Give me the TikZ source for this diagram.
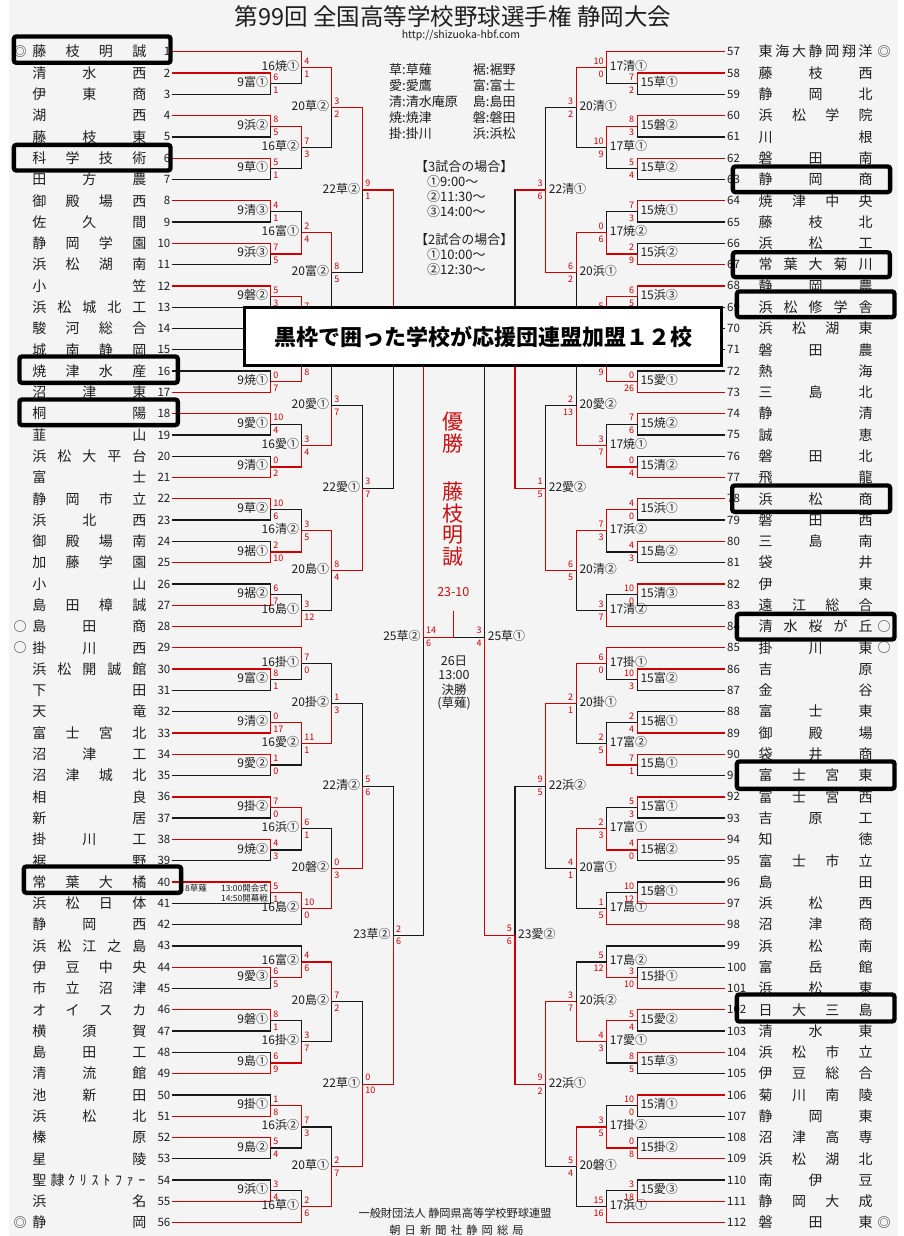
\documentclass[tikz,border=0pt]{standalone}
\usepackage{fontspec}
\setmainfont{Noto Sans CJK JP}
\usetikzlibrary{calc}
\definecolor{bgc}{RGB}{244,244,244}
\definecolor{lred}{RGB}{204,0,0}
\definecolor{lblk}{RGB}{25,25,25}
\definecolor{tred}{RGB}{200,16,16}
\definecolor{txt}{RGB}{30,30,30}
\newcommand\fsz[1]{\fontsize{#1}{#1}\selectfont}
\tikzset{
  win/.style={draw=lred,line width=1.3pt},
  lose/.style={draw=lblk,line width=1.3pt},
  lab/.style={font=\fsz{12},text=txt,inner sep=0pt,text height=10.5pt,text depth=1.5pt},
  sc/.style={font=\fsz{9},text=lred,inner sep=0pt},
  tn/.style={font=\fsz{14},text=txt,inner sep=0pt,text height=12.3pt,text depth=1.7pt},
  num/.style={font=\fsz{11.5},text=txt,inner sep=0pt},
  seedmark/.style={font=\fsz{13},text=txt,inner sep=0pt},
  info/.style={font=\fsz{13},text=txt,inner sep=0pt,anchor=west},
  tbox/.style={draw=black,line width=4.4pt,rounded corners=2.5pt},
  small/.style={font=\fsz{8.5},text=txt,inner sep=0pt}
}
% match: name, top in, bottom in, x, label, top score, bottom score, winner(1/2/3), side
\newcommand\mt[9]{%
  \coordinate (#1x) at (#4,0);
  \coordinate (#1m) at ($(#2)!0.5!(#3)$);
  \coordinate (#1) at (#1x |- #1m);
  \ifnum#8=1
    \draw[lose] (#3) -- (#3 -| #1x) -- (#1);
    \draw[win] (#2) -- (#2 -| #1x) -- (#1);
  \else\ifnum#8=2
    \draw[lose] (#2) -- (#2 -| #1x) -- (#1);
    \draw[win] (#3) -- (#3 -| #1x) -- (#1);
  \else
    \draw[win] (#2) -- (#2 -| #1x) -- (#1);
    \draw[win] (#3) -- (#3 -| #1x) -- (#1);
  \fi\fi
  \if L#9
    \node[lab,anchor=east] (#1l) at ($(#1)+(-2.5,-1.5)$) {#5};
    \node[sc,anchor=west] (#1a) at ($(#1)+(2.5,-6.5)$) {#6};
    \node[sc,anchor=west] (#1b) at ($(#1)+(2.5,6.5)$) {#7};
  \else
    \node[lab,anchor=west] (#1l) at ($(#1)+(3,-1.5)$) {#5};
    \node[sc,anchor=east] (#1a) at ($(#1)+(-3,-6.5)$) {#6};
    \node[sc,anchor=east] (#1b) at ($(#1)+(-3,6.5)$) {#7};
  \fi
}
\newcommand\tmL[3]{%
  \foreach \ch [count=\k] in {#3} {
    \node[tn] (nL#1-\k) at ({39.3+(\k-1)*100/(#2-1)},{51.7+(#1-1)*21.29}) {\ch};
  }%
  \node[num,anchor=east] (nn#1) at (170.5,{51.7+(#1-1)*21.29}) {#1};
  \coordinate (t#1) at (172,{51.7+(#1-1)*21.29});
}
\newcommand\tmR[3]{%
  \foreach \ch [count=\k] in {#3} {
    \node[tn] (nR#1-\k) at ({765.7+(\k-1)*100/(#2-1)},{51.7+(#1-57)*21.29}) {\ch};
  }%
  \node[num,anchor=west] (nn#1) at (727,{51.7+(#1-57)*21.29}) {#1};
  \coordinate (t#1) at (725,{51.7+(#1-57)*21.29});
}
\def\Xa{270.7}\def\Xb{301.7}\def\Xc{331.7}\def\Xd{362.7}\def\Xe{393.3}\def\Xf{423.3}
\def\Ra{637.3}\def\Rb{606.7}\def\Rc{576.3}\def\Rd{545.7}\def\Re{515}\def\Rf{484.7}
\begin{document}
\begin{tikzpicture}[x=1pt,y=-1pt]
\useasboundingbox (0,0) rectangle (904,1236);
\fill[white] (0,0) rectangle (904,1236);
\fill[bgc] (9,0) rectangle (898,1236);

% title and info
\node[font=\fsz{23.5},text=txt,inner sep=0pt] (title) at (453,16.5) {第99回 全国高等学校野球選手権 静岡大会};
\node[font=\fsz{10.5},text=txt,inner sep=0pt] (url) at (461,35) {http://shizuoka-hbf.com};
\node[info] (lg1) at (389,69.3) {草:草薙};
\node[info] (lg2) at (389,85.5) {愛:愛鷹};
\node[info] (lg3) at (389,101.5) {清:清水庵原};
\node[info] (lg4) at (389,117.7) {焼:焼津};
\node[info] (lg5) at (389,134) {掛:掛川};
\node[info] (lg6) at (472.7,69.3) {裾:裾野};
\node[info] (lg7) at (472.7,85.5) {富:富士};
\node[info] (lg8) at (472.7,101.5) {島:島田};
\node[info] (lg9) at (472.7,117.7) {磐:磐田};
\node[info] (lg10) at (472.7,134) {浜:浜松};
\node[info] (sh1) at (415,166.7) {【3試合の場合】};
\node[info] (sh2) at (427,181.7) {①9:00〜};
\node[info] (sh3) at (427,196.7) {②11:30〜};
\node[info] (sh4) at (427,211.3) {③14:00〜};
\node[info] (sh5) at (415,240) {【2試合の場合】};
\node[info] (sh6) at (427,255) {①10:00〜};
\node[info] (sh7) at (427,269.3) {②12:30〜};

% teams left
\tmL{1}{4}{藤,枝,明,誠}
\tmL{2}{3}{清,水,西}
\tmL{3}{3}{伊,東,商}
\tmL{4}{2}{湖,西}
\tmL{5}{3}{藤,枝,東}
\tmL{6}{4}{科,学,技,術}
\tmL{7}{3}{田,方,農}
\tmL{8}{4}{御,殿,場,西}
\tmL{9}{3}{佐,久,間}
\tmL{10}{4}{静,岡,学,園}
\tmL{11}{4}{浜,松,湖,南}
\tmL{12}{2}{小,笠}
\tmL{13}{5}{浜,松,城,北,工}
\tmL{14}{4}{駿,河,総,合}
\tmL{15}{4}{城,南,静,岡}
\tmL{16}{4}{焼,津,水,産}
\tmL{17}{3}{沼,津,東}
\tmL{18}{2}{桐,陽}
\tmL{19}{2}{韮,山}
\tmL{20}{5}{浜,松,大,平,台}
\tmL{21}{2}{富,士}
\tmL{22}{4}{静,岡,市,立}
\tmL{23}{3}{浜,北,西}
\tmL{24}{4}{御,殿,場,南}
\tmL{25}{4}{加,藤,学,園}
\tmL{26}{2}{小,山}
\tmL{27}{4}{島,田,樟,誠}
\tmL{28}{3}{島,田,商}
\tmL{29}{3}{掛,川,西}
\tmL{30}{5}{浜,松,開,誠,館}
\tmL{31}{2}{下,田}
\tmL{32}{2}{天,竜}
\tmL{33}{4}{富,士,宮,北}
\tmL{34}{3}{沼,津,工}
\tmL{35}{4}{沼,津,城,北}
\tmL{36}{2}{相,良}
\tmL{37}{2}{新,居}
\tmL{38}{3}{掛,川,工}
\tmL{39}{2}{裾,野}
\tmL{40}{4}{常,葉,大,橘}
\tmL{41}{4}{浜,松,日,体}
\tmL{42}{3}{静,岡,西}
\tmL{43}{5}{浜,松,江,之,島}
\tmL{44}{4}{伊,豆,中,央}
\tmL{45}{4}{市,立,沼,津}
\tmL{46}{4}{オ,イ,ス,カ}
\tmL{47}{3}{横,須,賀}
\tmL{48}{3}{島,田,工}
\tmL{49}{3}{清,流,館}
\tmL{50}{3}{池,新,田}
\tmL{51}{3}{浜,松,北}
\tmL{52}{2}{榛,原}
\tmL{53}{2}{星,陵}
% team 54 (full-width kanji + half-width kana)
\node[tn] (nL54-1) at (39.3,{51.7+53*21.29}) {聖};
\node[tn] (nL54-2) at (57.5,{51.7+53*21.29}) {隷};
\foreach \ch [count=\k] in {ｸ,ﾘ,ｽ,ﾄ,ﾌ,ｧ,ｰ} {
  \node[tn] (kk\k) at ({71.7+(\k-1)*11.7},{51.7+53*21.29}) {\ch};
}
\node[num,anchor=east] (nn54) at (170.5,{51.7+53*21.29}) {54};
\coordinate (t54) at (172,{51.7+53*21.29});
\tmL{55}{2}{浜,名}
\tmL{56}{2}{静,岡}

% teams right
\tmR{57}{7}{東,海,大,静,岡,翔,洋}
\tmR{58}{3}{藤,枝,西}
\tmR{59}{3}{静,岡,北}
\tmR{60}{4}{浜,松,学,院}
\tmR{61}{2}{川,根}
\tmR{62}{3}{磐,田,南}
\tmR{63}{3}{静,岡,商}
\tmR{64}{4}{焼,津,中,央}
\tmR{65}{3}{藤,枝,北}
\tmR{66}{3}{浜,松,工}
\tmR{67}{5}{常,葉,大,菊,川}
\tmR{68}{3}{静,岡,農}
\tmR{69}{5}{浜,松,修,学,舎}
\tmR{70}{4}{浜,松,湖,東}
\tmR{71}{3}{磐,田,農}
\tmR{72}{2}{熱,海}
\tmR{73}{3}{三,島,北}
\tmR{74}{2}{静,清}
\tmR{75}{2}{誠,恵}
\tmR{76}{3}{磐,田,北}
\tmR{77}{2}{飛,龍}
\tmR{78}{3}{浜,松,商}
\tmR{79}{3}{磐,田,西}
\tmR{80}{3}{三,島,南}
\tmR{81}{2}{袋,井}
\tmR{82}{2}{伊,東}
\tmR{83}{4}{遠,江,総,合}
\tmR{84}{5}{清,水,桜,が,丘}
\tmR{85}{3}{掛,川,東}
\tmR{86}{2}{吉,原}
\tmR{87}{2}{金,谷}
\tmR{88}{3}{富,士,東}
\tmR{89}{3}{御,殿,場}
\tmR{90}{3}{袋,井,商}
\tmR{91}{4}{富,士,宮,東}
\tmR{92}{4}{富,士,宮,西}
\tmR{93}{3}{吉,原,工}
\tmR{94}{2}{知,徳}
\tmR{95}{4}{富,士,市,立}
\tmR{96}{2}{島,田}
\tmR{97}{3}{浜,松,西}
\tmR{98}{3}{沼,津,商}
\tmR{99}{3}{浜,松,南}
\tmR{100}{3}{富,岳,館}
\tmR{101}{3}{浜,松,東}
\tmR{102}{4}{日,大,三,島}
\tmR{103}{3}{清,水,東}
\tmR{104}{4}{浜,松,市,立}
\tmR{105}{4}{伊,豆,総,合}
\tmR{106}{4}{菊,川,南,陵}
\tmR{107}{3}{静,岡,東}
\tmR{108}{4}{沼,津,高,専}
\tmR{109}{4}{浜,松,湖,北}
\tmR{110}{3}{南,伊,豆}
\tmR{111}{4}{静,岡,大,成}
\tmR{112}{3}{磐,田,東}

% seed marks
\node[seedmark] (mk1) at (20,51.7) {◎};
\node[seedmark] (mk28) at (20,{51.7+27*21.29}) {○};
\node[seedmark] (mk29) at (20,{51.7+28*21.29}) {○};
\node[seedmark] (mk56) at (20,{51.7+55*21.29}) {◎};
\node[seedmark] (mk57) at (884,51.7) {◎};
\node[seedmark] (mk84) at (884,{51.7+27*21.29}) {○};
\node[seedmark] (mk85) at (884,{51.7+28*21.29}) {○};
\node[seedmark] (mk112) at (884,{51.7+55*21.29}) {◎};

% left bracket
\mt{a1}{t2}{t3}{\Xa}{9富①}{6}{1}{1}{L}
\mt{a2}{t1}{a1}{\Xb}{16焼①}{4}{1}{1}{L}
\mt{a3}{t4}{t5}{\Xa}{9浜②}{8}{5}{1}{L}
\mt{a4}{t6}{t7}{\Xa}{9草①}{5}{1}{1}{L}
\mt{a5}{a3}{a4}{\Xb}{16草②}{7}{3}{1}{L}
\mt{a6}{a2}{a5}{\Xc}{20草②}{3}{2}{1}{L}
\mt{a7}{t8}{t9}{\Xa}{9清③}{4}{1}{1}{L}
\mt{a8}{t10}{t11}{\Xa}{9浜③}{7}{5}{1}{L}
\mt{a9}{a7}{a8}{\Xb}{16富①}{2}{4}{2}{L}
\mt{a10}{t12}{t13}{\Xa}{9磐②}{5}{3}{1}{L}
\mt{a11}{a10}{t14}{\Xb}{}{7}{}{1}{L}
\mt{a12}{a9}{a11}{\Xc}{20富②}{8}{5}{1}{L}
\mt{a13}{a6}{a12}{\Xd}{22草②}{9}{1}{1}{L}
\mt{b1}{t16}{t17}{\Xa}{9焼①}{0}{7}{2}{L}
\mt{b2}{t15}{b1}{\Xb}{}{}{8}{2}{L}
\mt{b3}{t18}{t19}{\Xa}{9愛①}{10}{4}{1}{L}
\mt{b4}{t20}{t21}{\Xa}{9清①}{0}{2}{2}{L}
\mt{b5}{b3}{b4}{\Xb}{16愛①}{3}{4}{2}{L}
\mt{b6}{b2}{b5}{\Xc}{20愛①}{3}{7}{2}{L}
\mt{b7}{t22}{t23}{\Xa}{9草②}{10}{6}{1}{L}
\mt{b8}{t24}{t25}{\Xa}{9裾①}{2}{10}{2}{L}
\mt{b9}{b7}{b8}{\Xb}{16清②}{3}{5}{2}{L}
\mt{b10}{t26}{t27}{\Xa}{9裾②}{6}{7}{2}{L}
\mt{b11}{b10}{t28}{\Xb}{16島①}{3}{12}{2}{L}
\mt{b12}{b9}{b11}{\Xc}{20島①}{8}{4}{1}{L}
\mt{b13}{b6}{b12}{\Xd}{22愛①}{3}{7}{2}{L}
\mt{c1}{a13}{b13}{\Xe}{}{}{}{1}{L}
\mt{d1}{t30}{t31}{\Xa}{9富②}{8}{1}{1}{L}
\mt{d2}{t29}{d1}{\Xb}{16掛①}{7}{0}{1}{L}
\mt{d3}{t32}{t33}{\Xa}{9清②}{0}{17}{2}{L}
\mt{d4}{t34}{t35}{\Xa}{9愛②}{1}{0}{1}{L}
\mt{d5}{d3}{d4}{\Xb}{16愛②}{11}{1}{1}{L}
\mt{d6}{d2}{d5}{\Xc}{20掛②}{1}{3}{2}{L}
\mt{d7}{t36}{t37}{\Xa}{9掛②}{7}{0}{1}{L}
\mt{d8}{t38}{t39}{\Xa}{9焼②}{4}{3}{1}{L}
\mt{d9}{d7}{d8}{\Xb}{16浜①}{6}{1}{1}{L}
\mt{d10}{t40}{t41}{\Xa}{}{5}{1}{1}{L}
\mt{d11}{d10}{t42}{\Xb}{16島②}{10}{0}{1}{L}
\mt{d12}{d9}{d11}{\Xc}{20磐②}{0}{3}{2}{L}
\mt{d13}{d6}{d12}{\Xd}{22清②}{5}{6}{2}{L}
\mt{e1}{t44}{t45}{\Xa}{9愛③}{6}{5}{1}{L}
\mt{e2}{t43}{e1}{\Xb}{16富②}{4}{6}{2}{L}
\mt{e3}{t46}{t47}{\Xa}{9磐①}{8}{1}{1}{L}
\mt{e4}{t48}{t49}{\Xa}{9島①}{6}{9}{2}{L}
\mt{e5}{e3}{e4}{\Xb}{16掛②}{3}{7}{2}{L}
\mt{e6}{e2}{e5}{\Xc}{20島②}{7}{2}{1}{L}
\mt{e7}{t50}{t51}{\Xa}{9掛①}{1}{8}{2}{L}
\mt{e8}{t52}{t53}{\Xa}{9島②}{5}{4}{1}{L}
\mt{e9}{e7}{e8}{\Xb}{16浜②}{7}{3}{1}{L}
\mt{e10}{t54}{t55}{\Xa}{9浜①}{3}{4}{2}{L}
\mt{e11}{e10}{t56}{\Xb}{16草①}{2}{6}{2}{L}
\mt{e12}{e9}{e11}{\Xc}{20草①}{2}{7}{2}{L}
\mt{e13}{e6}{e12}{\Xd}{22草①}{0}{10}{2}{L}
\mt{f1}{d13}{e13}{\Xe}{23草②}{2}{6}{2}{L}
\mt{g1}{c1}{f1}{\Xf}{25草②}{14}{6}{1}{L}
\node[small,anchor=west] (sp1) at (185,888) {8草薙};
\node[small,anchor=east] (sp2) at (268,888) {13:00開会式};
\node[small,anchor=east] (sp3) at (268,898.5) {14:50開幕戦};

% right bracket
\mt{p1}{t58}{t59}{\Ra}{15草①}{7}{2}{1}{R}
\mt{p2}{t57}{p1}{\Rb}{17清①}{10}{0}{1}{R}
\mt{p3}{t60}{t61}{\Ra}{15磐②}{8}{3}{1}{R}
\mt{p4}{t62}{t63}{\Ra}{15草②}{5}{4}{1}{R}
\mt{p5}{p3}{p4}{\Rb}{17草①}{10}{9}{1}{R}
\mt{p6}{p2}{p5}{\Rc}{20清①}{3}{2}{1}{R}
\mt{p7}{t64}{t65}{\Ra}{15焼①}{7}{3}{1}{R}
\mt{p8}{t66}{t67}{\Ra}{15浜②}{2}{9}{2}{R}
\mt{p9}{p7}{p8}{\Rb}{17焼②}{0}{6}{2}{R}
\mt{p10}{t68}{t69}{\Ra}{15浜③}{6}{5}{1}{R}
\mt{p11}{p10}{t70}{\Rb}{}{5}{}{1}{R}
\mt{p12}{p9}{p11}{\Rc}{20浜①}{6}{2}{1}{R}
\mt{p13}{p6}{p12}{\Rd}{22清①}{3}{6}{2}{R}
\mt{q1}{t72}{t73}{\Ra}{15愛①}{0}{26}{2}{R}
\mt{q2}{t71}{q1}{\Rb}{}{}{9}{2}{R}
\mt{q3}{t74}{t75}{\Ra}{15焼②}{7}{6}{1}{R}
\mt{q4}{t76}{t77}{\Ra}{15清②}{0}{4}{2}{R}
\mt{q5}{q3}{q4}{\Rb}{17焼①}{3}{7}{2}{R}
\mt{q6}{q2}{q5}{\Rc}{20愛②}{2}{13}{2}{R}
\mt{q7}{t78}{t79}{\Ra}{15浜①}{4}{0}{1}{R}
\mt{q8}{t80}{t81}{\Ra}{15島②}{4}{3}{1}{R}
\mt{q9}{q7}{q8}{\Rb}{17浜②}{7}{3}{1}{R}
\mt{q10}{t82}{t83}{\Ra}{15清③}{10}{0}{1}{R}
\mt{q11}{q10}{t84}{\Rb}{17清②}{3}{7}{2}{R}
\mt{q12}{q9}{q11}{\Rc}{20清②}{6}{5}{1}{R}
\mt{q13}{q6}{q12}{\Rd}{22愛②}{1}{5}{2}{R}
\mt{r1}{p13}{q13}{\Re}{}{}{}{2}{R}
\draw[win] (p13) -- (p13 -| r1x);
\mt{s1}{t86}{t87}{\Ra}{15富②}{10}{3}{1}{R}
\mt{s2}{t85}{s1}{\Rb}{17掛①}{6}{0}{1}{R}
\mt{s3}{t88}{t89}{\Ra}{15裾①}{2}{4}{2}{R}
\mt{s4}{t90}{t91}{\Ra}{15島①}{7}{1}{1}{R}
\mt{s5}{s3}{s4}{\Rb}{17富②}{2}{5}{2}{R}
\mt{s6}{s2}{s5}{\Rc}{20掛①}{2}{1}{1}{R}
\mt{s7}{t92}{t93}{\Ra}{15富①}{5}{3}{1}{R}
\mt{s8}{t94}{t95}{\Ra}{15裾②}{4}{0}{1}{R}
\mt{s9}{s7}{s8}{\Rb}{17富①}{2}{3}{2}{R}
\mt{s10}{t96}{t97}{\Ra}{15磐①}{10}{12}{2}{R}
\mt{s11}{s10}{t98}{\Rb}{17島①}{1}{5}{2}{R}
\mt{s12}{s9}{s11}{\Rc}{20富①}{4}{1}{1}{R}
\mt{s13}{s6}{s12}{\Rd}{22浜②}{9}{5}{1}{R}
\mt{u1}{t100}{t101}{\Ra}{15掛①}{3}{10}{2}{R}
\mt{u2}{t99}{u1}{\Rb}{17島②}{5}{12}{2}{R}
\mt{u3}{t102}{t103}{\Ra}{15愛②}{5}{4}{1}{R}
\mt{u4}{t104}{t105}{\Ra}{15草③}{8}{5}{1}{R}
\mt{u5}{u3}{u4}{\Rb}{17愛①}{4}{3}{1}{R}
\mt{u6}{u2}{u5}{\Rc}{20浜②}{3}{7}{2}{R}
\mt{u7}{t106}{t107}{\Ra}{15清①}{10}{0}{1}{R}
\mt{u8}{t108}{t109}{\Ra}{15掛②}{0}{8}{2}{R}
\mt{u9}{u7}{u8}{\Rb}{17掛②}{3}{5}{2}{R}
\mt{u10}{t110}{t111}{\Ra}{15愛③}{3}{18}{2}{R}
\mt{u11}{u10}{t112}{\Rb}{17浜①}{15}{16}{2}{R}
\mt{u12}{u9}{u11}{\Rc}{20磐①}{5}{4}{1}{R}
\mt{u13}{u6}{u12}{\Rd}{22浜①}{9}{2}{1}{R}
\mt{v1}{s13}{u13}{\Re}{23愛②}{5}{6}{2}{R}
\mt{w1}{r1}{v1}{\Rf}{25草①}{3}{4}{2}{R}

% final
\coordinate (stemx) at (453.3,0);
\coordinate (fin) at (stemx |- g1);
\coordinate (stemtop) at (453.3,610.7);
\draw[lose] (w1) -- (fin);
\draw[win] (g1) -- (fin) -- (stemtop);
\node[font=\fsz{21},text=tred,inner sep=0pt] (ch1) at (453.3,421.7) {優};
\node[font=\fsz{21},text=tred,inner sep=0pt] (ch2) at (453.3,443.3) {勝};
\node[font=\fsz{21},text=tred,inner sep=0pt] (ch3) at (453.3,491.7) {藤};
\node[font=\fsz{21},text=tred,inner sep=0pt] (ch4) at (453.3,513.3) {枝};
\node[font=\fsz{21},text=tred,inner sep=0pt] (ch5) at (453.3,535) {明};
\node[font=\fsz{21},text=tred,inner sep=0pt] (ch6) at (453.3,556.7) {誠};
\node[font=\fsz{12.5},text=tred,inner sep=0pt] (fsc) at (453.3,591.7) {23-10};
\node[font=\fsz{12.5},text=txt,inner sep=0pt] (fd1) at (454,660.7) {26日};
\node[font=\fsz{12.5},text=txt,inner sep=0pt] (fd2) at (454,675) {13:00};
\node[font=\fsz{12.5},text=txt,inner sep=0pt] (fd3) at (454,689.5) {決勝};
\node[font=\fsz{12.5},text=txt,inner sep=0pt] (fd4) at (454,703.3) {(草薙)};

% footer
\node[font=\fsz{11.2},text=txt,inner sep=0pt] (ft1) at (455,1213.3) {一般財団法人 静岡県高等学校野球連盟};
\node[font=\fsz{11.2},text=txt,inner sep=0pt] (ft2) at (456.5,1230) {朝\hskip4.2pt 日\hskip4.2pt 新\hskip4.2pt 聞\hskip4.2pt 社\hskip4.2pt 静\hskip4.2pt 岡\hskip4.2pt 総\hskip4.2pt 局};

% member boxes
\draw[tbox] (13.9,36.5) rectangle (170.5,62.8);
\draw[tbox] (13.9,144.9) rectangle (170.5,170.5);
\draw[tbox] (19.5,356.5) rectangle (177.8,382.8);
\draw[tbox] (19.5,399.5) rectangle (177.8,425.1);
\draw[tbox] (23.9,866.5) rectangle (181.1,892.8);
\draw[tbox] (732.9,166.5) rectangle (890.1,192.1);
\draw[tbox] (732.9,252.2) rectangle (889.8,277.1);
\draw[tbox] (736.9,291.5) rectangle (894.5,317.1);
\draw[tbox] (732.2,485.5) rectangle (890.1,511.8);
\draw[tbox] (736.9,613.9) rectangle (894.5,639.5);
\draw[tbox] (736.9,761.5) rectangle (894.5,788.8);
\draw[tbox] (736.9,994.5) rectangle (894.5,1021.5);

% banner
\node[draw=black,line width=3.5pt,fill=white,minimum width=476.6pt,minimum height=57.6pt,inner sep=0pt,font=\fsz{22}\bfseries,text=black] (ban) at (483,336.5) {黒枠で囲った学校が応援団連盟加盟１２校};
\end{tikzpicture}
\end{document}
